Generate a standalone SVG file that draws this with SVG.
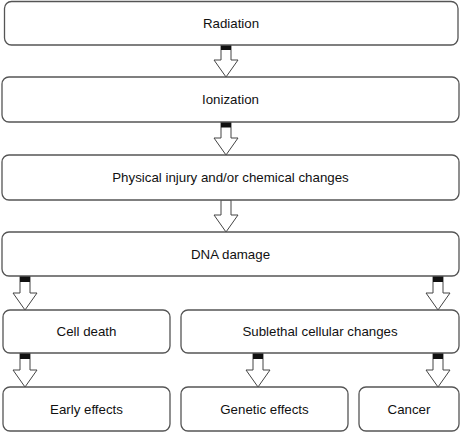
<svg xmlns="http://www.w3.org/2000/svg" width="462" height="433" viewBox="0 0 462 433">
<style>
.box{fill:#fff;stroke:#555;stroke-width:1.3}
.lbl{font-family:"Liberation Sans",Arial,sans-serif;font-size:13.3px;fill:#111;text-anchor:middle}
.arr{fill:#fff;stroke:#444;stroke-width:1}
.cap{fill:#111}
</style>
<rect width="462" height="433" fill="#fff"/>
<g id="connectors">
<path class="arr" d="M221,45 V60 H214 L226,77 L238,60 H231 V45 Z"/>
<path class="arr" d="M221,122 V138 H214 L226,155 L238,138 H231 V122 Z"/>
<rect class="cap" x="221" y="122" width="10" height="5.5"/>
<path class="arr" d="M221,200 V215 H214 L226,232 L238,215 H231 V200 Z"/>
<path class="arr" d="M20,276 V293 H13 L25,310 L37,293 H30 V276 Z"/>
<rect class="cap" x="20" y="276" width="10" height="6"/>
<path class="arr" d="M433,276 V293 H426 L438,310 L450,293 H443 V276 Z"/>
<rect class="cap" x="433" y="276" width="10" height="6"/>
<path class="arr" d="M20,353 V370 H13 L25,387 L37,370 H30 V353 Z"/>
<rect class="cap" x="20" y="353" width="10" height="6"/>
<path class="arr" d="M253,353 V370 H246 L258,387 L270,370 H263 V353 Z"/>
<rect class="cap" x="253" y="353" width="10" height="6"/>
<path class="arr" d="M433,353 V370 H426 L438,387 L450,370 H443 V353 Z"/>
<rect class="cap" x="433" y="353" width="10" height="6"/>
<rect class="cap" x="221" y="45" width="10" height="5"/>
</g>
<g id="radiation"><rect class="box" x="4.5" y="1.5" width="453.5" height="43.5" rx="7"/><text class="lbl" x="231" y="28">Radiation</text></g>
<g id="ionization"><rect class="box" x="2" y="77" width="457" height="45" rx="7"/><text class="lbl" x="230.5" y="104">Ionization</text></g>
<g id="physical"><rect class="box" x="2" y="155" width="457" height="45" rx="7"/><text class="lbl" x="230.5" y="182">Physical injury and/or chemical changes</text></g>
<g id="dna"><rect class="box" x="2" y="232" width="457" height="44" rx="7"/><text class="lbl" x="230.5" y="258.5">DNA damage</text></g>
<g id="celldeath"><rect class="box" x="3" y="310" width="167" height="43" rx="7"/><text class="lbl" x="86.5" y="336">Cell death</text></g>
<g id="sublethal"><rect class="box" x="181" y="310" width="278" height="43" rx="7"/><text class="lbl" x="320" y="336">Sublethal cellular changes</text></g>
<g id="early"><rect class="box" x="3" y="387" width="167" height="44" rx="7"/><text class="lbl" x="86.5" y="413.5">Early effects</text></g>
<g id="genetic"><rect class="box" x="181" y="387" width="167" height="44" rx="7"/><text class="lbl" x="264.5" y="413.5">Genetic effects</text></g>
<g id="cancer"><rect class="box" x="359" y="387" width="100" height="44" rx="7"/><text class="lbl" x="409" y="413.5">Cancer</text></g>
</svg>
